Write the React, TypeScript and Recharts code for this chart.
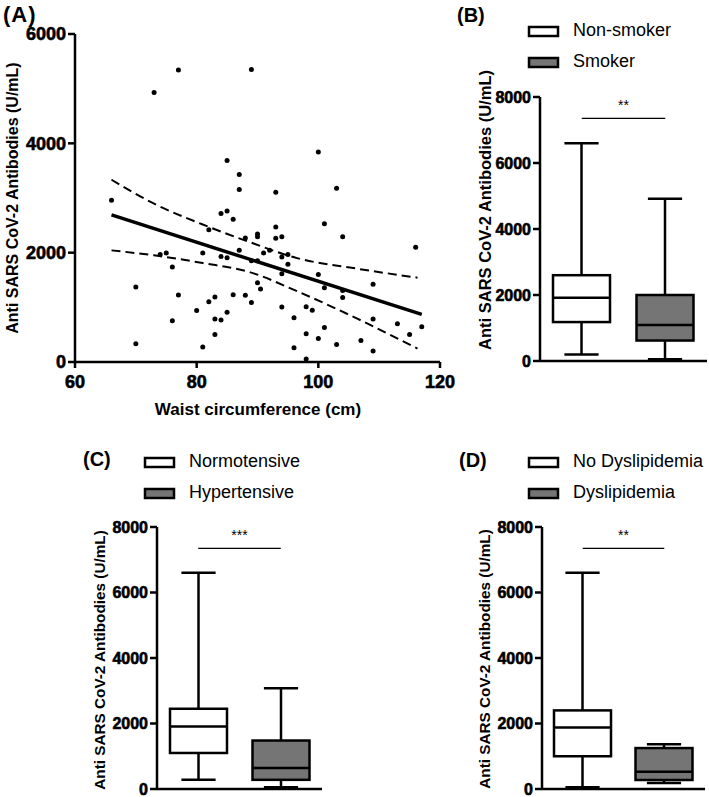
import React from "react";
import { ComposedChart, Scatter, Line, Bar, XAxis, YAxis, ReferenceLine, Label } from "recharts";

const FONT = '"Liberation Sans", Arial, Helvetica, sans-serif';
const Y_TITLE = "Anti SARS CoV-2 Antibodies (U/mL)";

// (A) waist circumference vs antibody level
const waistCm = [
  66, 70, 70, 73, 74, 75, 76, 76, 77, 77, 80, 81, 81, 82, 82, 83, 83, 83, 84, 84, 84, 85, 85, 85, 85, 86, 86,
  87, 87, 87, 88, 88, 89, 89, 89, 90, 90, 90, 90, 90.5, 91, 92, 93, 93, 93, 94, 94, 94, 94, 95, 95, 96, 96,
  98, 98, 98, 99, 100, 100, 100, 101, 101, 101, 103, 103, 104, 104, 104, 107, 109, 109, 109, 113, 115, 116, 117,
];
const antibodyUml = [
  2960, 1370, 335, 4930, 1965, 1995, 1740, 755, 5340, 1225, 940, 1995, 275, 2420, 1100, 1190, 785, 505, 2715, 1930,
  770, 3685, 2760, 1905, 910, 2610, 1230, 3430, 3155, 2045, 2270, 1220, 5350, 1850, 1090, 2340, 2290, 1850, 1450,
  1335, 1995, 2045, 3105, 2470, 2265, 2290, 1920, 1615, 1005, 1965, 1790, 810, 260, 1010, 515, 55, 945, 3840, 1600,
  430, 2530, 1360, 630, 3180, 320, 2290, 1310, 1180, 395, 1420, 785, 200, 700, 505, 2100, 645,
];
const fitX = [66, 117];
const fitY = [2690, 870];
const upperX = [66, 73, 81, 88.7, 96.5, 106.4, 116.3];
const upperY = [3335, 2896, 2515, 2194, 1900, 1707, 1543];
const lowerX = [66, 73, 81, 88.7, 96.5, 106.4, 116.3];
const lowerY = [2042, 1951, 1810, 1645, 1295, 793, 245];
const waistTicks = [60, 80, 100, 120];
const scatterTicks = [0, 2000, 4000, 6000];

// (B)(C)(D) box plots: min, Q1, median, Q3, max
const boxTicks = [0, 2000, 4000, 6000, 8000];

const smokingGroups = ["Non-smoker", "Smoker"];
const smokingMin = [200, 50];
const smokingQ1 = [1180, 620];
const smokingMedian = [1920, 1090];
const smokingQ3 = [2600, 2000];
const smokingMax = [6600, 4920];

const bpGroups = ["Normotensive", "Hypertensive"];
const bpMin = [280, 50];
const bpQ1 = [1100, 280];
const bpMedian = [1910, 640];
const bpQ3 = [2450, 1480];
const bpMax = [6600, 3080];

const lipidGroups = ["No Dyslipidemia", "Dyslipidemia"];
const lipidMin = [50, 180];
const lipidQ1 = [1000, 275];
const lipidMedian = [1880, 530];
const lipidQ3 = [2400, 1250];
const lipidMax = [6600, 1370];

const groupFills = ["#ffffff", "#757575"];
const sigY = 7350;

const toXY = (xs: number[], ys: number[]) => xs.map((x, i) => ({ x, y: ys[i] }));

const boxRows = (names: string[], mn: number[], q1: number[], md: number[], q3: number[], mx: number[]) =>
  names.map((name, i) => ({
    name,
    range: [mn[i], mx[i]],
    min: mn[i],
    q1: q1[i],
    median: md[i],
    q3: q3[i],
    max: mx[i],
    fill: groupFills[i],
  }));

function BoxShape(props: any) {
  const { x, y, width, height, payload } = props;
  const { min, q1, median, q3, max, fill } = payload;
  const py = (v: number) => y + (height * (max - v)) / (max - min);
  const cx = x + width / 2;
  const cap = width * 0.3;
  return (
    <g stroke="#000" strokeWidth={2.5} fill="none">
      <line x1={cx} x2={cx} y1={py(max)} y2={py(q3)} />
      <line x1={cx} x2={cx} y1={py(q1)} y2={py(min)} />
      <line x1={cx - cap} x2={cx + cap} y1={py(max)} y2={py(max)} />
      <line x1={cx - cap} x2={cx + cap} y1={py(min)} y2={py(min)} />
      <rect x={x} y={py(q3)} width={width} height={py(q1) - py(q3)} fill={fill} />
      <line x1={x} x2={x + width} y1={py(median)} y2={py(median)} />
    </g>
  );
}

const Dot = (props: any) => <circle cx={props.cx} cy={props.cy} r={2.5} fill="#000" />;

// heavy bold tick labels, like the original figure
const tickFont = (size: number) => ({
  fill: "#000",
  stroke: "#000",
  strokeWidth: 0.6,
  fontSize: size,
  fontWeight: 700,
  fontFamily: FONT,
});

const yTitle = (x: number, y: number, size: number) => () => (
  <text
    x={x}
    y={y}
    transform={`rotate(-90 ${x} ${y})`}
    textAnchor="middle"
    fontFamily={FONT}
    fontWeight={700}
    fontSize={size}
    fill="#000"
  >
    {Y_TITLE}
  </text>
);

const axisStyle = { stroke: "#000", strokeWidth: 2.5 };

interface BoxPanelProps {
  rows: any[];
  left: number;
  top: number;
  width: number;
  height: number;
  margin: { top: number; right: number; bottom: number; left: number };
  title: { x: number; y: number; size: number };
  stars: string;
}

function BoxPanel({ rows, left, top, width, height, margin, title, stars }: BoxPanelProps) {
  return (
    <div style={{ position: "absolute", left, top }}>
      <ComposedChart width={width} height={height} data={rows} margin={margin} style={{ fontFamily: FONT }}>
        <XAxis dataKey="name" type="category" tick={false} tickLine={false} axisLine={axisStyle} height={5} />
        <YAxis
          type="number"
          domain={[0, 8000]}
          ticks={boxTicks}
          interval={0}
          width={70}
          tickSize={7}
          axisLine={axisStyle}
          tickLine={axisStyle}
          tick={tickFont(16)}
        >
          <Label content={yTitle(title.x, title.y, title.size)} />
        </YAxis>
        <Bar dataKey="range" barSize={57} shape={<BoxShape />} isAnimationActive={false} />
        <ReferenceLine
          segment={[
            { x: rows[0].name, y: sigY },
            { x: rows[1].name, y: sigY },
          ]}
          stroke="#000"
          strokeWidth={1.2}
          label={{ value: stars, position: "top", offset: 8, fontSize: 14, fill: "#000", fontFamily: FONT }}
        />
      </ComposedChart>
    </div>
  );
}

function LegendBlock({ x, y, names }: { x: number; y: number; names: string[] }) {
  return (
    <g>
      {names.map((n, i) => (
        <g key={n}>
          <rect x={x} y={y + i * 31} width={29} height={9} fill={groupFills[i]} stroke="#000" strokeWidth={2.5} />
          <text x={x + 44} y={y + 9 + i * 31} fontFamily={FONT} fontSize={18} fill="#000">
            {n}
          </text>
        </g>
      ))}
    </g>
  );
}

export default function App() {
  const points = toXY(waistCm, antibodyUml);
  const fit = toXY(fitX, fitY);
  const upper = toXY(upperX, upperY);
  const lower = toXY(lowerX, lowerY);

  return (
    <div style={{ position: "absolute", left: 0, top: 0, width: 709, height: 797, background: "#fff", fontFamily: FONT }}>
      <div style={{ position: "absolute", left: 0, top: 0 }}>
        <ComposedChart width={460} height={425} margin={{ top: 34, right: 20, bottom: 8, left: 0 }} style={{ fontFamily: FONT }}>
          <XAxis
            type="number"
            dataKey="x"
            domain={[60, 120]}
            ticks={waistTicks}
            interval={0}
            allowDataOverflow
            height={55}
            tickSize={6}
            tickMargin={7}
            axisLine={axisStyle}
            tickLine={axisStyle}
            tick={tickFont(18)}
          >
            <Label
              content={() => (
                <text x={258} y={415} textAnchor="middle" fontFamily={FONT} fontWeight={700} fontSize={17} fill="#000">
                  Waist circumference (cm)
                </text>
              )}
            />
          </XAxis>
          <YAxis
            type="number"
            dataKey="y"
            domain={[0, 6000]}
            ticks={scatterTicks}
            interval={0}
            allowDataOverflow
            width={75}
            tickSize={7}
            axisLine={axisStyle}
            tickLine={axisStyle}
            tick={tickFont(18)}
          >
            <Label content={yTitle(18, 198, 16)} />
          </YAxis>
          <Line data={upper} dataKey="y" type="monotone" stroke="#000" strokeWidth={2} strokeDasharray="9 5" dot={false} isAnimationActive={false} />
          <Line data={lower} dataKey="y" type="monotone" stroke="#000" strokeWidth={2} strokeDasharray="9 5" dot={false} isAnimationActive={false} />
          <Line data={fit} dataKey="y" type="linear" stroke="#000" strokeWidth={3.5} dot={false} isAnimationActive={false} />
          <Scatter data={points} dataKey="y" shape={<Dot />} isAnimationActive={false} />
        </ComposedChart>
      </div>

      <BoxPanel
        rows={boxRows(smokingGroups, smokingMin, smokingQ1, smokingMedian, smokingQ3, smokingMax)}
        left={440}
        top={0}
        width={269}
        height={400}
        margin={{ top: 97, right: 2, bottom: 34, left: 30 }}
        title={{ x: 51, y: 210, size: 16.5 }}
        stars="**"
      />
      <BoxPanel
        rows={boxRows(bpGroups, bpMin, bpQ1, bpMedian, bpQ3, bpMax)}
        left={60}
        top={410}
        width={270}
        height={390}
        margin={{ top: 117, right: 8, bottom: 6, left: 27 }}
        title={{ x: 45, y: 250, size: 15.3 }}
        stars="***"
      />
      <BoxPanel
        rows={boxRows(lipidGroups, lipidMin, lipidQ1, lipidMedian, lipidQ3, lipidMax)}
        left={440}
        top={410}
        width={269}
        height={390}
        margin={{ top: 117, right: 4, bottom: 6, left: 32 }}
        title={{ x: 50, y: 249, size: 15.3 }}
        stars="**"
      />

      <svg width={709} height={797} style={{ position: "absolute", left: 0, top: 0, pointerEvents: "none" }}>
        <g fontFamily={FONT} fontWeight={700} fill="#000">
          <text x={3} y={22} fontSize={22} letterSpacing={1}>(A)</text>
          <text x={457} y={22} fontSize={20}>(B)</text>
          <text x={83} y={466} fontSize={20}>(C)</text>
          <text x={459} y={467} fontSize={20}>(D)</text>
        </g>
        <LegendBlock x={529} y={27} names={smokingGroups} />
        <LegendBlock x={145} y={458} names={bpGroups} />
        <LegendBlock x={529} y={458} names={lipidGroups} />
      </svg>
    </div>
  );
}
